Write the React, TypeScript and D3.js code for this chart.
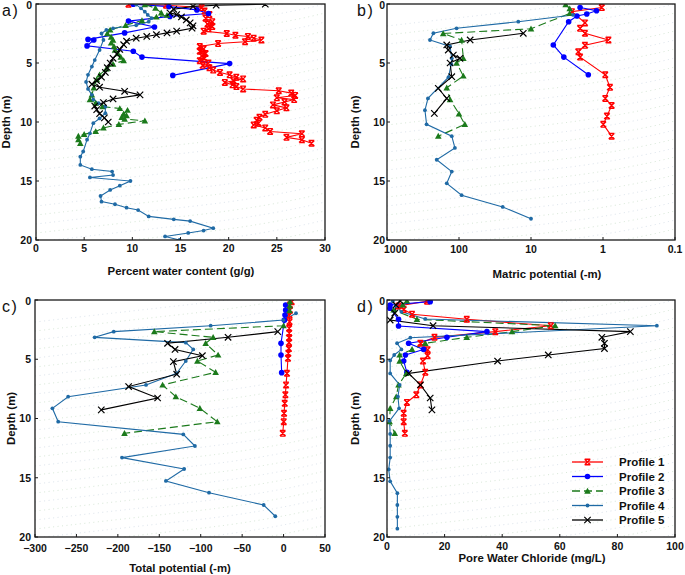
import React from 'react';
import * as d3 from 'd3';

type P = [number, number]; // [depth (m), value]

const profileNames = ['Profile 1', 'Profile 2', 'Profile 3', 'Profile 4', 'Profile 5'];
const profileColors = ['#ff0000', '#0000ff', '#1b7a1b', '#1f6aa5', '#000000'];

// ---------- a) Percent water content (g/g) ----------
const waterP1: P[] = [[0.02,9.6],[0.1,13.5],[0.3,17.2],[0.6,17.5],[0.9,18.0],[1.2,17.6],[1.5,18.3],[1.7,17.8],[1.9,18.3],[2.1,17.9],[2.3,17.4],[2.5,19.8],[2.65,20.7],[2.75,22.0],[2.9,22.6],[3.05,23.4],[3.2,21.7],[3.35,18.9],[3.6,17.0],[3.8,17.4],[4.0,17.0],[4.2,17.6],[4.4,17.2],[4.6,17.5],[4.8,17.0],[5.0,17.9],[5.2,17.3],[5.4,18.0],[5.6,18.4],[5.8,19.1],[6.0,20.1],[6.2,20.8],[6.35,21.5],[6.5,20.5],[6.65,19.6],[6.85,20.4],[7.0,20.8],[7.2,21.5],[7.35,25.2],[7.55,26.5],[7.75,26.9],[7.95,25.0],[8.1,26.8],[8.3,25.8],[8.55,24.6],[8.8,26.0],[9.05,25.0],[9.35,23.8],[9.6,23.2],[9.85,22.9],[10.1,23.1],[10.25,22.6],[10.5,23.8],[10.8,24.3],[11.0,27.6],[11.3,26.0],[11.5,27.6],[11.8,28.6]];
const waterP2: P[] = [[0.02,10.1],[0.22,13.8],[0.5,16.7],[0.8,17.9],[1.05,13.9],[1.45,9.6],[1.95,12.3],[2.45,9.2],[3.0,5.4],[3.05,6.0],[3.55,5.3],[4.0,10.1],[4.5,11.0],[5.05,20.1],[6.05,14.2]];
const waterP3: P[] = [[0.05,11.3],[0.35,12.4],[0.75,13.0],[0.95,13.6],[1.1,12.5],[1.4,11.0],[1.8,9.3],[2.2,7.7],[2.5,7.4],[2.8,7.8],[3.05,8.0],[3.3,7.8],[3.6,8.1],[3.9,8.2],[4.2,8.5],[4.5,8.8],[4.8,9.1],[5.1,8.0],[5.5,7.3],[6.0,6.6],[6.4,6.3],[7.1,6.0],[7.7,5.8],[8.1,5.6],[8.4,6.2],[8.7,6.9],[8.85,8.7],[9.0,9.5],[9.3,9.1],[9.45,9.4],[9.6,8.9],[9.75,9.2],[9.9,11.3],[10.2,8.6],[10.5,7.0],[10.8,6.2],[11.05,5.0],[11.2,4.4],[11.5,4.4],[11.8,4.6]];
const waterP4: P[] = [[0.05,10.4],[0.37,10.9],[0.65,11.3],[0.93,11.6],[1.2,12.0],[1.5,11.7],[1.8,10.4],[2.06,8.0],[2.2,7.3],[2.5,6.8],[3.05,7.0],[3.9,6.6],[4.75,6.1],[5.3,5.8],[6.0,5.4],[6.6,5.2],[7.2,5.4],[7.7,5.8],[8.1,5.95],[8.4,6.5],[8.7,7.2],[9.26,7.2],[9.7,6.6],[10.1,5.95],[10.96,5.6],[11.5,5.3],[12.5,4.9],[12.94,4.6],[13.64,4.6],[14.0,5.8],[14.2,7.9],[14.5,8.0],[14.7,5.6],[15.0,9.8],[15.4,8.7],[15.76,7.7],[16.27,6.7],[16.75,6.8],[16.97,8.2],[17.26,9.4],[17.46,10.6],[18.0,11.7],[18.25,14.3],[18.4,16.0],[19.0,18.4],[19.2,17.4],[19.4,15.8],[19.7,13.4],[20.0,14.9]];
const waterP5: P[] = [[0.02,23.8],[0.1,18.7],[0.2,16.3],[0.45,14.3],[0.75,13.9],[0.9,14.6],[1.1,15.1],[1.35,15.6],[1.6,16.0],[1.85,16.3],[2.05,16.2],[2.3,14.6],[2.45,13.6],[2.6,12.5],[2.75,11.5],[2.9,10.4],[3.15,9.4],[3.45,9.1],[3.85,8.7],[4.25,8.4],[4.6,8.0],[5.0,7.7],[5.4,7.4],[5.8,7.2],[6.2,6.8],[6.5,6.3],[6.8,5.8],[7.05,6.6],[7.4,9.2],[7.7,10.8],[8.05,8.0],[8.35,7.0],[8.65,6.1],[8.95,6.3],[9.3,6.6],[9.65,7.1],[10.0,7.5]];

// ---------- b) Matric potential (-m) ----------
const matricP1: P[] = [[0.3,1.04],[0.65,2.7],[1.6,1.78],[2.06,2.08],[2.48,1.78],[3.05,0.84],[3.5,1.78],[4.05,2.2],[4.5,2.08],[6.0,0.93],[7.06,0.8],[8.0,0.93],[8.6,0.76],[9.5,0.88],[10.2,0.99],[11.2,0.76]];
const matricP2: P[] = [[0.3,2.08],[0.57,1.23],[0.85,1.68],[1.02,2.3],[1.5,3.0],[3.47,4.9],[4.5,3.5],[6.0,1.6]];
const matricP3: P[] = [[0.05,3.3],[0.4,2.9],[0.8,2.9],[2.1,10],[2.5,166],[3.05,92],[4.6,87],[5.0,108],[6.1,87],[7.1,148],[8.1,133],[9.3,100],[10.2,83],[11.2,194]];
const matricP4: P[] = [[0.93,2.6],[1.5,15],[2.06,108],[2.48,227],[3.05,253],[3.6,133],[4.6,126],[5.1,128],[6.2,140],[8.0,270],[9.0,297],[10.2,282],[11.2,126],[12.2,114],[13.2,204],[14.2,126],[15.2,148],[16.2,92],[17.2,24.7],[18.2,10]];
const matricP5: P[] = [[2.48,12.8],[3.05,70],[3.47,148],[3.9,141],[4.33,120],[4.6,97],[5.0,133],[6.16,126],[7.15,194],[8.0,148],[9.27,220]];

// ---------- c) Total potential (-m) ----------
const totalP1: P[] = [[0.14,9.8],[0.42,7.7],[0.84,7.7],[1.27,7.2],[1.83,7.2],[2.39,6.8],[2.8,6.8],[3.18,6.8],[3.6,6.6],[4.1,6.4],[4.5,5.8],[4.92,5.3],[6.19,4.1],[7.17,3.0],[8.0,2.2],[8.72,1.4],[9.56,0.6],[10.27,0.2],[11.25,-1.0]];
const totalP2: P[] = [[0.42,2.5],[0.84,2.5],[1.27,1.7],[1.7,1.0],[3.66,-3.1],[4.64,-3.1],[6.13,-2.3]];
const totalP3: P[] = [[0.14,7.7],[0.5,7.5],[0.9,7.2],[2.17,0],[2.67,-156],[3.15,-85],[3.65,-94],[4.64,-79],[5.15,-104],[6.1,-82],[7.17,-146],[8.16,-130],[9.14,-101],[10.27,-80],[11.25,-192]];
const totalP4: P[] = [[1.12,15],[1.69,0],[2.17,-88],[2.67,-205],[3.15,-228],[3.6,-118],[4.17,-109],[5.15,-118],[6.19,-129],[7.17,-166],[8.16,-260],[9.14,-279],[10.27,-272],[11.34,-121],[12.32,-107],[13.3,-195],[14.26,-120],[15.27,-142],[16.26,-90],[17.3,-24],[18.25,-10]];
const totalP5: P[] = [[2.67,-7],[3.15,-67],[3.65,-140],[4.17,-131],[4.7,-98],[5.2,-133],[6.26,-129],[7.3,-187],[8.27,-152],[9.27,-220]];

// ---------- d) Pore water chloride (mg/L) ----------
const chlorideP1: P[] = [[0.1,13.9],[0.5,4.0],[0.8,5.8],[1.2,8.7],[1.63,27.7],[2.17,56.9],[2.67,37.6],[3.15,16.5],[3.65,11.6],[4.2,14.1],[4.7,14.1],[5.15,12.5],[6.1,13.3],[7.17,11.6],[8.0,10.2],[8.64,6.9],[9.56,5.8],[10.27,5.8],[11.25,6.2]];
const chlorideP2: P[] = [[0.14,15.0],[0.42,1.1],[0.7,1.0],[1.63,4.0],[2.2,4.0],[2.67,34.7],[3.15,20.8],[3.65,7.5],[4.17,12.7],[4.64,6.4],[5.15,5.8],[6.1,6.9]];
const chlorideP3: P[] = [[0.08,6.9],[0.4,5.5],[0.84,2.3],[1.63,10.4],[2.17,58.4],[2.67,43.4],[3.15,27.7],[3.65,13.3],[4.17,8.7],[4.64,4.4],[5.15,4.4],[6.19,6.7],[7.17,4.0],[8.16,3.2],[9.14,1.1],[10.27,0.9],[11.25,2.7]];
const chlorideP4: P[] = [[0.1,2.0],[0.5,3.0],[1.0,5.0],[1.6,13.3],[2.17,93.7],[3.18,8.1],[3.65,3.5],[4.17,5.0],[4.64,2.5],[5.1,1.1],[6.2,1.1],[7.17,4.4],[8.16,3.8],[9.14,4.2],[10.2,0.9],[11.3,1.1],[12.3,1.1],[13.3,1.1],[14.3,0.6],[15.3,1.1],[16.3,3.6],[17.3,3.6],[18.3,3.6],[19.3,3.6]];
const chlorideP5: P[] = [[0.08,4.6],[0.42,3.1],[1.1,2.7],[1.69,1.1],[2.17,16.0],[2.67,84.5],[3.15,74.6],[3.65,75.5],[4.1,75.5],[4.64,56.0],[5.15,38.4],[6.19,7.5],[7.17,11.6],[8.27,15.0],[9.27,15.6]];

const depthTicks = [0, 5, 10, 15, 20];
const waterTicks = [0, 5, 10, 15, 20, 25, 30];
const matricTicks = [1000, 100, 10, 1, 0.1];
const totalTicks = [-300, -250, -200, -150, -100, -50, 0, 50];
const chlorideTicks = [0, 20, 40, 60, 80, 100];

const FONT = 'Liberation Sans, Arial, Helvetica, sans-serif';

type Panel = {
  label: string; title: string;
  box: [number, number, number, number];
  log: boolean; domain: [number, number]; ticks: number[];
  series: P[][];
  titleX: number; titleY: number; depthX: number; yLabelGap: number; xLabelDy: number; labelX: number; legend?: boolean;
};

const panels: Panel[] = [
  { label: 'a)', title: 'Percent water content (g/g)', box: [36, 4, 325, 240], log: false, domain: [0, 30], ticks: waterTicks,
    series: [waterP1, waterP2, waterP3, waterP4, waterP5], titleX: 181, titleY: 275, depthX: 10, yLabelGap: 4, xLabelDy: 12, labelX: 2 },
  { label: 'b)', title: 'Matric potential (-m)', box: [387, 4, 675, 240], log: true, domain: [1000, 0.1], ticks: matricTicks,
    series: [matricP1, matricP2, matricP3, matricP4, matricP5], titleX: 547, titleY: 278, depthX: 359, yLabelGap: 2, xLabelDy: 12.5, labelX: 357 },
  { label: 'c)', title: 'Total potential (-m)', box: [35, 300, 325, 537], log: false, domain: [-300, 50], ticks: totalTicks,
    series: [totalP1, totalP2, totalP3, totalP4, totalP5], titleX: 180, titleY: 572, depthX: 15, yLabelGap: 4, xLabelDy: 14.5, labelX: 2 },
  { label: 'd)', title: 'Pore Water Chloride (mg/L)', box: [387, 300, 675, 537], log: false, domain: [0, 100], ticks: chlorideTicks,
    series: [chlorideP1, chlorideP2, chlorideP3, chlorideP4, chlorideP5], titleX: 532, titleY: 562, depthX: 359, yLabelGap: 2, xLabelDy: 12.5, labelX: 357, legend: true },
];

function Marker({ i, x, y }: { i: number; x: number; y: number }) {
  const c = profileColors[i];
  if (i === 0) {
    const s = 2.8;
    return <path d={`M${x - s},${y - s}L${x + s},${y + s}M${x + s},${y - s}L${x - s},${y + s}M${x - s},${y - s}L${x + s},${y - s}M${x - s},${y + s}L${x + s},${y + s}`} stroke={c} strokeWidth={1.4} fill="none" />;
  }
  if (i === 1) return <circle cx={x} cy={y} r={2.8} fill={c} />;
  if (i === 2) {
    const s = 3.3;
    return <path d={`M${x},${y - s}L${x + s},${y + s * 0.8}L${x - s},${y + s * 0.8}Z`} fill={c} />;
  }
  if (i === 3) return <circle cx={x} cy={y} r={1.9} fill={c} />;
  const s = 3.2;
  return <path d={`M${x - s},${y - s}L${x + s},${y + s}M${x + s},${y - s}L${x - s},${y + s}`} stroke={c} strokeWidth={1.2} fill="none" />;
}

// faint dotted texture seen in the reference background
function Texture({ l, t, r, b }: { l: number; t: number; r: number; b: number }) {
  const rows = d3.range(t + 22, b + 80, 9);
  return (
    <g>
      {rows.map((yy, k) => (
        <path key={k}
          d={`M${l},${yy}Q${l + (r - l) * 0.3},${yy - 10} ${l + (r - l) * 0.55},${yy - 18}T${r},${yy - 40}`}
          fill="none" stroke={k % 2 ? '#9fc39f' : '#a9bccf'} strokeWidth={0.8} strokeDasharray="1,3.5" opacity={0.55} />
      ))}
    </g>
  );
}

function PanelView({ p }: { p: Panel }) {
  const [l, t, r, b] = p.box;
  const x = p.log
    ? d3.scaleLog().domain(p.domain).range([l, r])
    : d3.scaleLinear().domain(p.domain).range([l, r]);
  const y = d3.scaleLinear().domain([0, 20]).range([t, b]);
  const line = d3.line<P>().x((d) => x(d[1])).y((d) => y(d[0]));
  const fmt = (v: number) => (p.log ? (v < 1 ? String(v) : d3.format('d')(v)) : d3.format('d')(v));
  const cid = `clip-${p.label.replace(')', '')}`;
  return (
    <g>
      <rect x={l} y={t} width={r - l} height={b - t} fill="#ffffff" />
      <clipPath id={cid}>
        <rect x={l} y={t} width={r - l} height={b - t} />
      </clipPath>
      <g clipPath={`url(#${cid})`}>
        <Texture l={l} t={t} r={r} b={b} />
        {p.series.map((s, i) => (
          <path key={`l${i}`} d={line(s) || ''} fill="none" stroke={profileColors[i]} strokeWidth={1.1}
            strokeDasharray={i === 2 ? '8,4' : undefined} />
        ))}
        {p.series.map((s, i) => (
          <g key={`m${i}`}>{s.map((d, k) => <Marker key={k} i={i} x={x(d[1])} y={y(d[0])} />)}</g>
        ))}
      </g>
      <rect x={l} y={t} width={r - l} height={b - t} fill="none" stroke="#1a1a1a" strokeWidth={1.3} />
      {p.ticks.map((v, k) => (
        <g key={`xt${k}`}>
          <line x1={x(v)} x2={x(v)} y1={b} y2={b - 3} stroke="#1a1a1a" strokeWidth={1} />
          <text x={x(v)} y={b + p.xLabelDy} textAnchor={p.log && k === 0 ? 'start' : 'middle'} dx={p.log && k === 0 ? -3 : 0}
            fontFamily={FONT} fontWeight="bold" fontSize={10.5} fill="#111">{fmt(v)}</text>
        </g>
      ))}
      {depthTicks.map((v, k) => (
        <g key={`yt${k}`}>
          <line x1={l} x2={l + 3} y1={y(v)} y2={y(v)} stroke="#1a1a1a" strokeWidth={1} />
          <text x={l - p.yLabelGap} y={y(v) + (k === 0 ? 4.6 : 3.8)} textAnchor="end" fontFamily={FONT} fontWeight="bold" fontSize={10.5} fill="#111">{v}</text>
        </g>
      ))}
      <text x={p.titleX} y={p.titleY} textAnchor="middle" fontFamily={FONT} fontWeight="bold" fontSize={11.4} fill="#111">{p.title}</text>
      <text transform={`translate(${p.depthX},${(t + b) / 2}) rotate(-90)`} textAnchor="middle" fontFamily={FONT} fontWeight="bold" fontSize={11.4} fill="#111">Depth (m)</text>
      <text x={p.labelX} y={t + 12} fontFamily={FONT} fontSize={16} letterSpacing={1.5} fill="#111">{p.label}</text>
      {p.legend && profileNames.map((name, i) => {
        const ly = 462 + i * 14.5;
        return (
          <g key={`lg${i}`}>
            <line x1={572} x2={603} y1={ly} y2={ly} stroke={profileColors[i]} strokeWidth={1.3} strokeDasharray={i === 2 ? '8,4' : undefined} />
            <Marker i={i} x={587.5} y={ly} />
            <text x={619} y={ly + 4} fontFamily={FONT} fontWeight="bold" fontSize={11.5} fill="#111">{name}</text>
          </g>
        );
      })}
    </g>
  );
}

export default function App() {
  return (
    <svg width={685} height={575} style={{ position: 'absolute', left: 0, top: 0, background: '#fff' }}>
      <rect x={0} y={0} width={685} height={575} fill="#fff" />
      {panels.map((p) => <PanelView key={p.label} p={p} />)}
    </svg>
  );
}
